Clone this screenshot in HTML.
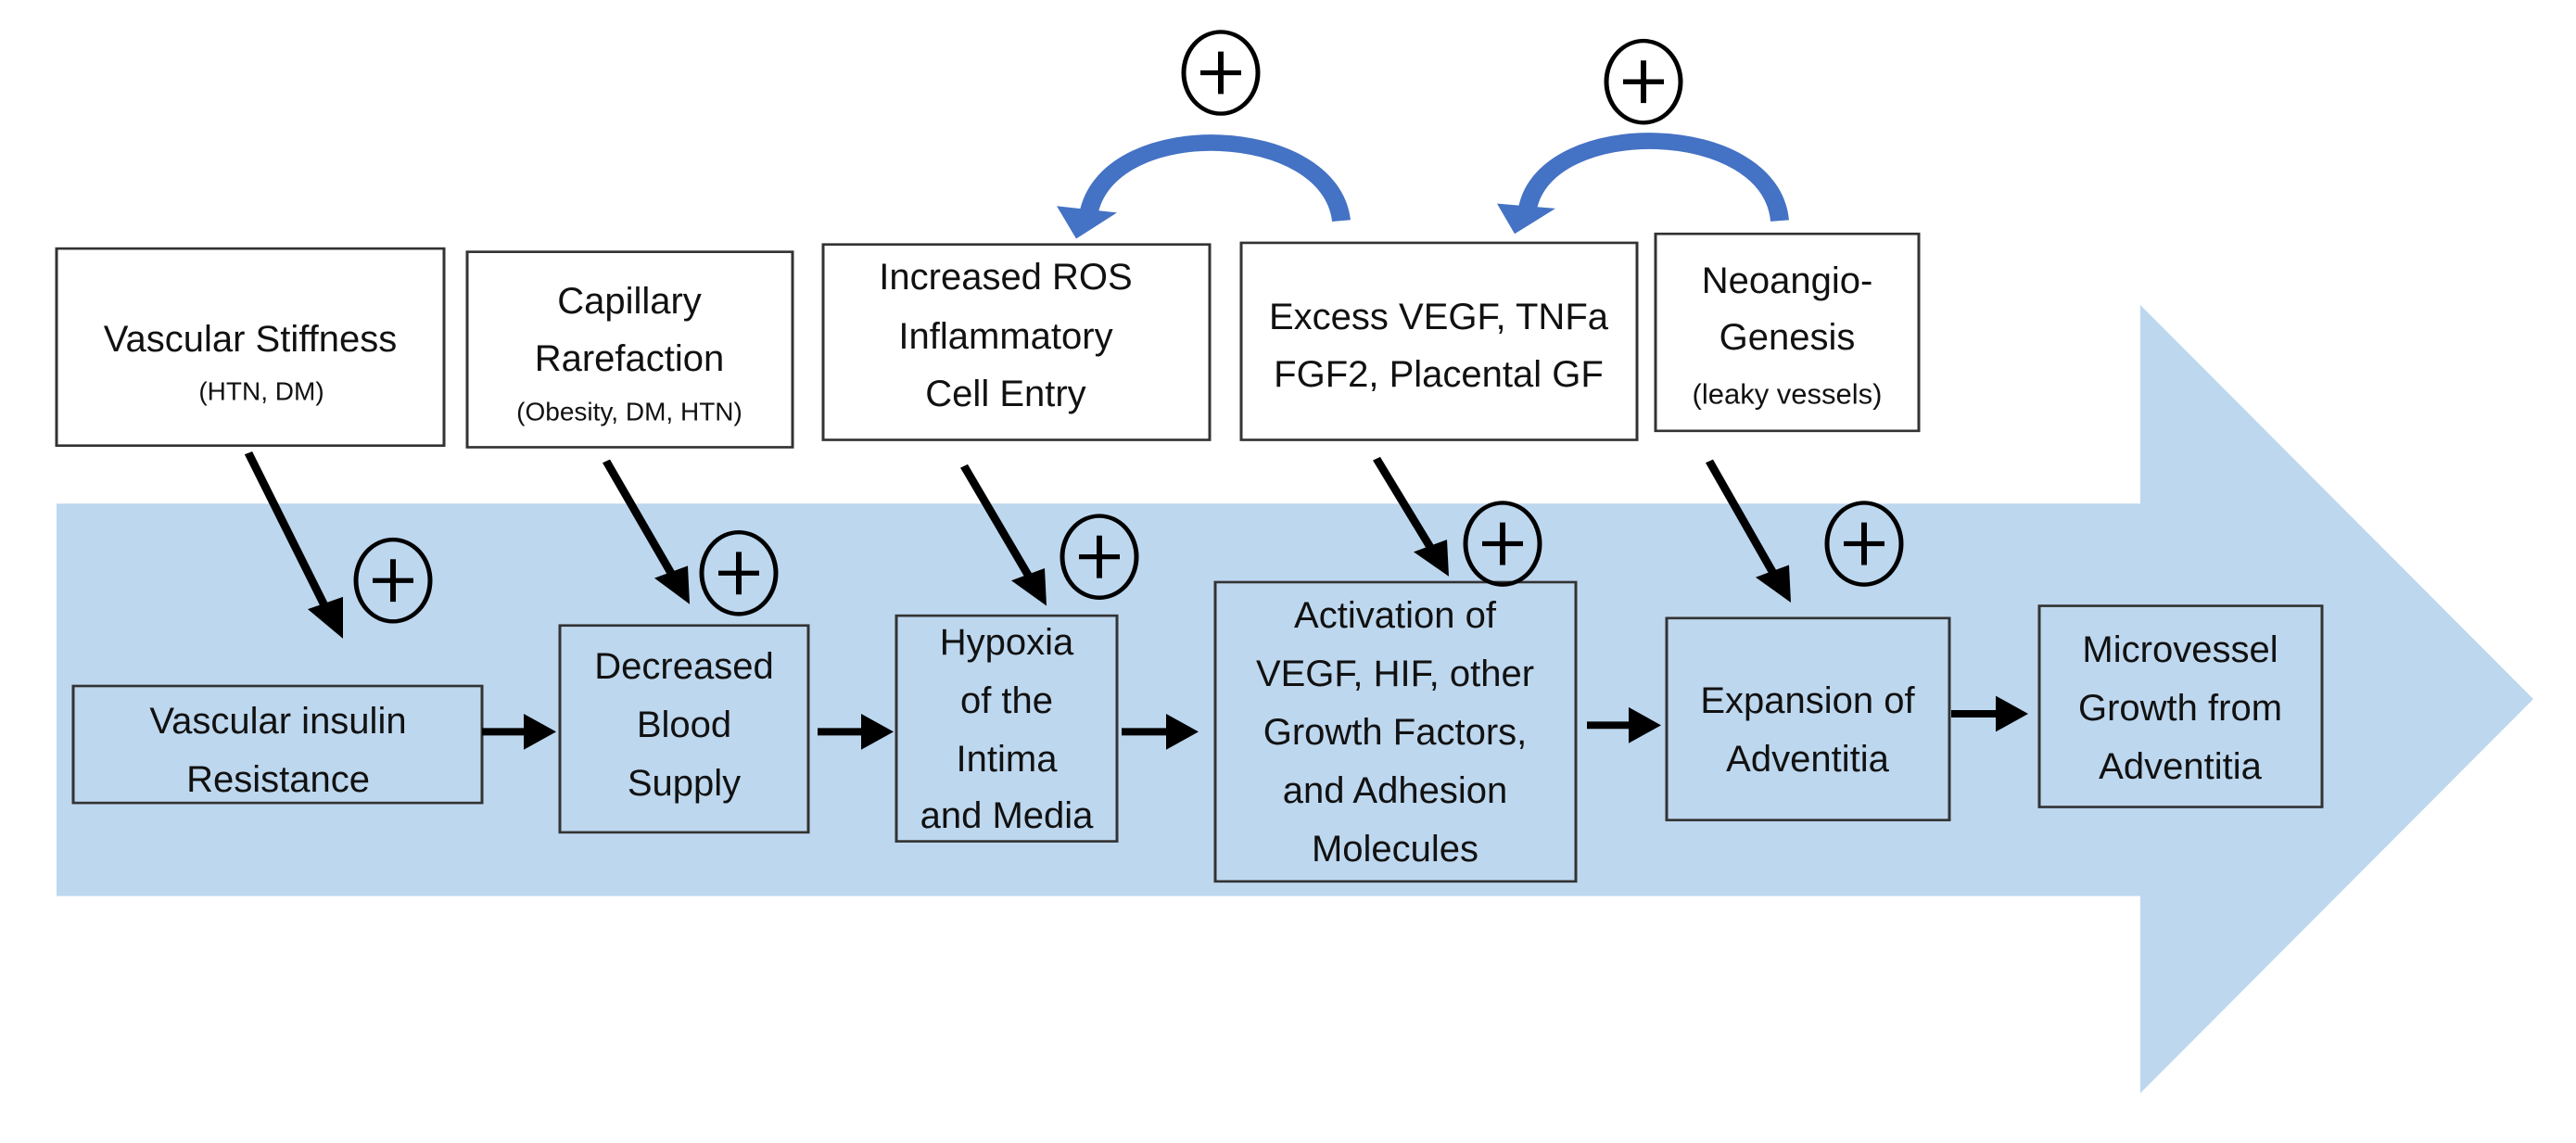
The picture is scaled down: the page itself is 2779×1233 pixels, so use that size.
<!DOCTYPE html>
<html><head><meta charset="utf-8"><style>
html,body{margin:0;padding:0;background:#fff;overflow:hidden;}
svg{display:block;}
text{font-family:"Liberation Sans",sans-serif;fill:#111;}
</style></head><body>
<svg width="2779" height="1233" viewBox="0 0 2779 1233" xmlns="http://www.w3.org/2000/svg">
<g transform="scale(1,0.882)">
<polygon points="61,616 2309,616 2309,373 2733,855 2309,1337 2309,1096 61,1096" fill="#bdd7ee"/>
<g fill="#fff" stroke="#333" stroke-width="3">
<rect x="61" y="304" width="418" height="241"/>
<rect x="504" y="308" width="351" height="239"/>
<rect x="888" y="299" width="417" height="239"/>
<rect x="1339" y="297" width="427" height="241"/>
<rect x="1786" y="286" width="284" height="241"/>
</g>
<g fill="none" stroke="#333" stroke-width="3">
<rect x="79" y="839" width="441" height="143"/>
<rect x="604" y="765" width="268" height="253"/>
<rect x="967" y="753" width="238" height="276"/>
<rect x="1311" y="712" width="389" height="366"/>
<rect x="1798" y="756" width="305" height="247"/>
<rect x="2200" y="741" width="305" height="246"/>
</g>
<g stroke="#000" stroke-width="9" fill="#000">
<line x1="268" y1="554" x2="352" y2="745"/>
<line x1="654" y1="564" x2="726" y2="705"/>
<line x1="1040" y1="570" x2="1111" y2="707"/>
<line x1="1485" y1="561" x2="1545" y2="673"/>
<line x1="1844" y1="564" x2="1914" y2="703"/>
<line x1="520" y1="895" x2="570" y2="895"/>
<line x1="882" y1="895" x2="934" y2="895"/>
<line x1="1210" y1="895" x2="1263" y2="895"/>
<line x1="1712" y1="887" x2="1762" y2="887"/>
<line x1="2105" y1="873" x2="2158" y2="873"/>
</g>
<g fill="#000">
<polygon points="370,781 332,745 370,730"/>
<polygon points="744,739 706,707 742,692"/>
<polygon points="1129,741 1091,710 1127,695"/>
<polygon points="1563,705 1525,675 1561,660"/>
<polygon points="1932,737 1894,706 1930,691"/>
<polygon points="600,895 565,873 565,917"/>
<polygon points="964,895 929,873 929,917"/>
<polygon points="1293,895 1258,873 1258,917"/>
<polygon points="1792,887 1757,865 1757,909"/>
<polygon points="2188,873 2153,851 2153,895"/>
</g>
<g fill="none" stroke="#000" stroke-width="5">
<ellipse cx="424" cy="710" rx="40" ry="50"/>
<ellipse cx="797" cy="701" rx="40" ry="50"/>
<ellipse cx="1186" cy="681" rx="40" ry="50"/>
<ellipse cx="1621" cy="665" rx="40" ry="50"/>
<ellipse cx="2011" cy="665" rx="40" ry="50"/>
<ellipse cx="1317" cy="89" rx="40" ry="50"/>
<ellipse cx="1773" cy="100" rx="40" ry="50"/>
</g>
<g stroke="#000" stroke-width="6">
<line x1="402" y1="710" x2="446" y2="710"/><line x1="424" y1="684" x2="424" y2="736"/>
<line x1="775" y1="701" x2="819" y2="701"/><line x1="797" y1="675" x2="797" y2="727"/>
<line x1="1164" y1="681" x2="1208" y2="681"/><line x1="1186" y1="655" x2="1186" y2="707"/>
<line x1="1599" y1="665" x2="1643" y2="665"/><line x1="1621" y1="639" x2="1621" y2="691"/>
<line x1="1989" y1="665" x2="2033" y2="665"/><line x1="2011" y1="639" x2="2011" y2="691"/>
<line x1="1295" y1="89" x2="1339" y2="89"/><line x1="1317" y1="63" x2="1317" y2="115"/>
<line x1="1751" y1="100" x2="1795" y2="100"/><line x1="1773" y1="74" x2="1773" y2="126"/>
</g>
<g fill="none" stroke="#4472c4" stroke-width="20">
<path d="M1447,270 C1435,150 1200,140 1175,258"/>
<path d="M1920,270 C1910,145 1668,140 1648,255"/>
</g>
<g fill="#4472c4">
<polygon points="1161,292 1140,252 1205,260"/>
<polygon points="1634,286 1615,249 1678,255"/>
</g>
</g>
<g font-size="40" text-anchor="middle" dominant-baseline="central">
<text x="270" y="366">Vascular Stiffness</text>
<text x="282" y="422" font-size="28">(HTN, DM)</text>
<text x="679" y="325">Capillary</text>
<text x="679" y="387">Rarefaction</text>
<text x="679" y="444" font-size="28">(Obesity, DM, HTN)</text>
<text x="1085" y="299">Increased ROS</text>
<text x="1085" y="363">Inflammatory</text>
<text x="1085" y="425">Cell Entry</text>
<text x="1552" y="342">Excess VEGF, TNFa</text>
<text x="1552" y="404">FGF2, Placental GF</text>
<text x="1928" y="303">Neoangio-</text>
<text x="1928" y="364">Genesis</text>
<text x="1928" y="425" font-size="31">(leaky vessels)</text>
<text x="300" y="778">Vascular insulin</text>
<text x="300" y="841">Resistance</text>
<text x="738" y="719">Decreased</text>
<text x="738" y="782">Blood</text>
<text x="738" y="845">Supply</text>
<text x="1086" y="693">Hypoxia</text>
<text x="1086" y="756">of the</text>
<text x="1086" y="819">Intima</text>
<text x="1086" y="880">and Media</text>
<text x="1505" y="664">Activation of</text>
<text x="1505" y="727">VEGF, HIF, other</text>
<text x="1505" y="790">Growth Factors,</text>
<text x="1505" y="853">and Adhesion</text>
<text x="1505" y="916">Molecules</text>
<text x="1950" y="756">Expansion of</text>
<text x="1950" y="819">Adventitia</text>
<text x="2352" y="701">Microvessel</text>
<text x="2352" y="764">Growth from</text>
<text x="2352" y="827">Adventitia</text>
</g>
</svg>
</body></html>
